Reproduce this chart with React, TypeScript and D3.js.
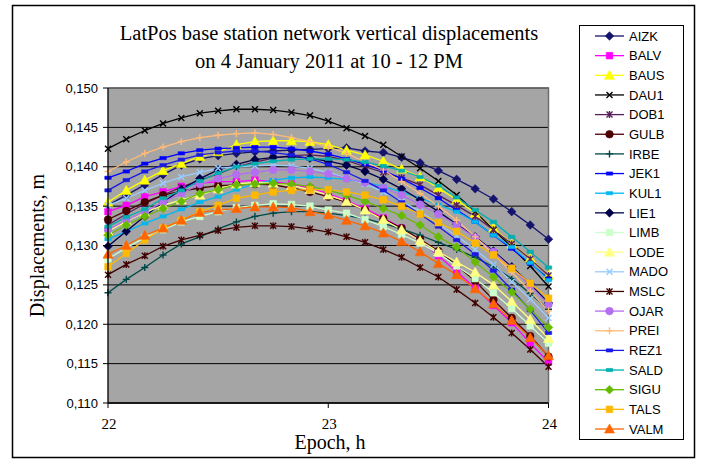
import * as d3 from 'd3'

// ─── Data (5-minute epochs) ──────────────────────────────────────────────────

const epochs = [
  22.0, 22.083, 22.167, 22.25, 22.333, 22.417, 22.5, 22.583, 22.667, 22.75, 22.833, 22.917,
  23.0, 23.083, 23.167, 23.25, 23.333, 23.417, 23.5, 23.583, 23.667, 23.75, 23.833, 23.917, 24.0,
]

const AIZK = [0.1351, 0.1364, 0.1377, 0.1390, 0.1402, 0.1410, 0.1414, 0.1417, 0.1419, 0.1420, 0.1421, 0.1422, 0.1423, 0.1424, 0.1420, 0.1418, 0.1412, 0.1405, 0.1395, 0.1384, 0.1372, 0.1359, 0.1343, 0.1326, 0.1308]
const BALV = [0.1343, 0.1351, 0.1362, 0.1368, 0.1375, 0.1379, 0.1381, 0.1381, 0.1383, 0.1381, 0.1378, 0.1373, 0.1366, 0.1357, 0.1347, 0.1335, 0.1322, 0.1306, 0.1287, 0.1267, 0.1246, 0.1224, 0.1202, 0.1176, 0.1152]
const BAUS = [0.1355, 0.1370, 0.1383, 0.1395, 0.1404, 0.1413, 0.1419, 0.1428, 0.1432, 0.1433, 0.1433, 0.1432, 0.1428, 0.1421, 0.1415, 0.1407, 0.1397, 0.1387, 0.1373, 0.1358, 0.1341, 0.1322, 0.1302, 0.1284, 0.1262]
const DAU1 = [0.1423, 0.1435, 0.1446, 0.1455, 0.1462, 0.1468, 0.1471, 0.1473, 0.1473, 0.1472, 0.1469, 0.1465, 0.1458, 0.1449, 0.1439, 0.1428, 0.1413, 0.1398, 0.1382, 0.1364, 0.1343, 0.1320, 0.1298, 0.1274, 0.1248]
const DOB1 = [0.1326, 0.1340, 0.1353, 0.1364, 0.1374, 0.1383, 0.1391, 0.1400, 0.1406, 0.1411, 0.1414, 0.1415, 0.1413, 0.1408, 0.1400, 0.1393, 0.1386, 0.1377, 0.1364, 0.1351, 0.1337, 0.1320, 0.1302, 0.1283, 0.1262]
const GULB = [0.1333, 0.1344, 0.1355, 0.1364, 0.1369, 0.1373, 0.1376, 0.1377, 0.1378, 0.1377, 0.1373, 0.1368, 0.1362, 0.1355, 0.1345, 0.1334, 0.1322, 0.1308, 0.1293, 0.1275, 0.1255, 0.1231, 0.1208, 0.1185, 0.1159]
const IRBE = [0.1240, 0.1257, 0.1272, 0.1288, 0.1302, 0.1311, 0.1321, 0.1330, 0.1337, 0.1341, 0.1343, 0.1343, 0.1341, 0.1338, 0.1334, 0.1328, 0.1321, 0.1313, 0.1304, 0.1295, 0.1285, 0.1273, 0.1258, 0.1239, 0.1219]
const JEK1 = [0.1386, 0.1394, 0.1404, 0.1411, 0.1417, 0.1421, 0.1423, 0.1424, 0.1425, 0.1425, 0.1423, 0.1420, 0.1416, 0.1410, 0.1403, 0.1395, 0.1385, 0.1373, 0.1360, 0.1345, 0.1330, 0.1313, 0.1296, 0.1277, 0.1258]
const KUL1 = [0.1308, 0.1318, 0.1328, 0.1337, 0.1346, 0.1355, 0.1362, 0.1371, 0.1378, 0.1383, 0.1386, 0.1387, 0.1386, 0.1384, 0.1380, 0.1375, 0.1368, 0.1360, 0.1352, 0.1343, 0.1330, 0.1313, 0.1298, 0.1278, 0.1256]
const LIE1 = [0.1299, 0.1318, 0.1337, 0.1355, 0.1371, 0.1385, 0.1396, 0.1403, 0.1409, 0.1412, 0.1413, 0.1411, 0.1407, 0.1402, 0.1394, 0.1384, 0.1372, 0.1358, 0.1343, 0.1327, 0.1311, 0.1293, 0.1273, 0.1251, 0.1227]
const LIMB = [0.1283, 0.1297, 0.1310, 0.1320, 0.1330, 0.1337, 0.1343, 0.1348, 0.1351, 0.1353, 0.1352, 0.1350, 0.1345, 0.1341, 0.1333, 0.1324, 0.1314, 0.1303, 0.1290, 0.1274, 0.1258, 0.1240, 0.1220, 0.1198, 0.1176]
const LODE = [0.1318, 0.1331, 0.1342, 0.1351, 0.1358, 0.1364, 0.1372, 0.1378, 0.1380, 0.1379, 0.1376, 0.1371, 0.1364, 0.1356, 0.1345, 0.1333, 0.1320, 0.1306, 0.1292, 0.1279, 0.1266, 0.1250, 0.1229, 0.1206, 0.1182]
const MADO = [0.1351, 0.1360, 0.1370, 0.1379, 0.1387, 0.1393, 0.1398, 0.1400, 0.1401, 0.1402, 0.1401, 0.1398, 0.1393, 0.1386, 0.1378, 0.1368, 0.1356, 0.1343, 0.1328, 0.1312, 0.1295, 0.1276, 0.1254, 0.1232, 0.1208]
const MSLC = [0.1263, 0.1276, 0.1287, 0.1299, 0.1307, 0.1313, 0.1319, 0.1323, 0.1325, 0.1325, 0.1324, 0.1321, 0.1317, 0.1311, 0.1304, 0.1295, 0.1285, 0.1272, 0.1260, 0.1244, 0.1227, 0.1209, 0.1189, 0.1168, 0.1146]
const OJAR = [0.1320, 0.1332, 0.1343, 0.1355, 0.1366, 0.1378, 0.1385, 0.1390, 0.1393, 0.1396, 0.1396, 0.1394, 0.1391, 0.1385, 0.1380, 0.1373, 0.1364, 0.1352, 0.1340, 0.1326, 0.1310, 0.1292, 0.1271, 0.1249, 0.1225]
const PREI = [0.1394, 0.1406, 0.1417, 0.1425, 0.1432, 0.1437, 0.1440, 0.1442, 0.1443, 0.1441, 0.1437, 0.1432, 0.1425, 0.1417, 0.1406, 0.1396, 0.1381, 0.1366, 0.1350, 0.1332, 0.1311, 0.1289, 0.1266, 0.1242, 0.1217]
const REZ1 = [0.1370, 0.1383, 0.1394, 0.1402, 0.1409, 0.1415, 0.1418, 0.1420, 0.1420, 0.1418, 0.1415, 0.1410, 0.1403, 0.1393, 0.1382, 0.1370, 0.1355, 0.1340, 0.1324, 0.1307, 0.1289, 0.1268, 0.1244, 0.1218, 0.1189]
const SALD = [0.1324, 0.1336, 0.1346, 0.1360, 0.1370, 0.1382, 0.1392, 0.1400, 0.1404, 0.1407, 0.1409, 0.1410, 0.1410, 0.1409, 0.1406, 0.1401, 0.1395, 0.1387, 0.1376, 0.1361, 0.1345, 0.1330, 0.1311, 0.1292, 0.1272]
const SIGU = [0.1313, 0.1326, 0.1337, 0.1347, 0.1356, 0.1366, 0.1371, 0.1377, 0.1378, 0.1379, 0.1378, 0.1375, 0.1370, 0.1364, 0.1356, 0.1347, 0.1338, 0.1326, 0.1311, 0.1298, 0.1279, 0.1260, 0.1241, 0.1219, 0.1196]
const TALS = [0.1273, 0.1290, 0.1307, 0.1322, 0.1332, 0.1343, 0.1351, 0.1360, 0.1364, 0.1368, 0.1370, 0.1371, 0.1371, 0.1368, 0.1364, 0.1358, 0.1350, 0.1340, 0.1329, 0.1318, 0.1303, 0.1288, 0.1271, 0.1252, 0.1233]
const VALM = [0.1289, 0.1300, 0.1313, 0.1322, 0.1332, 0.1342, 0.1345, 0.1347, 0.1349, 0.1349, 0.1348, 0.1343, 0.1339, 0.1332, 0.1325, 0.1316, 0.1305, 0.1292, 0.1277, 0.1263, 0.1245, 0.1226, 0.1205, 0.1183, 0.1160]

const stations = ['AIZK', 'BALV', 'BAUS', 'DAU1', 'DOB1', 'GULB', 'IRBE', 'JEK1', 'KUL1', 'LIE1', 'LIMB',
  'LODE', 'MADO', 'MSLC', 'OJAR', 'PREI', 'REZ1', 'SALD', 'SIGU', 'TALS', 'VALM']
const stationValues = [AIZK, BALV, BAUS, DAU1, DOB1, GULB, IRBE, JEK1, KUL1, LIE1, LIMB,
  LODE, MADO, MSLC, OJAR, PREI, REZ1, SALD, SIGU, TALS, VALM]

const yTicks = [0.11, 0.115, 0.12, 0.125, 0.13, 0.135, 0.14, 0.145, 0.15]
const xTicks = [22, 23, 24]

// ─── Styles ──────────────────────────────────────────────────────────────────

type MarkerKind = 'diamond' | 'square' | 'triangle' | 'times' | 'star' | 'circle' | 'plus' | 'dash'

const styles: Record<string, { color: string; marker: MarkerKind }> = {
  AIZK: { color: '#14146e', marker: 'diamond' },
  BALV: { color: '#ff00ff', marker: 'square' },
  BAUS: { color: '#ffff00', marker: 'triangle' },
  DAU1: { color: '#000000', marker: 'times' },
  DOB1: { color: '#5a1f5a', marker: 'star' },
  GULB: { color: '#4a0000', marker: 'circle' },
  IRBE: { color: '#004848', marker: 'plus' },
  JEK1: { color: '#0000ff', marker: 'dash' },
  KUL1: { color: '#00b8f0', marker: 'dash' },
  LIE1: { color: '#00004a', marker: 'diamond' },
  LIMB: { color: '#ccffcc', marker: 'square' },
  LODE: { color: '#ffff80', marker: 'triangle' },
  MADO: { color: '#99ccff', marker: 'times' },
  MSLC: { color: '#400000', marker: 'star' },
  OJAR: { color: '#b46ef0', marker: 'circle' },
  PREI: { color: '#ffbb77', marker: 'plus' },
  REZ1: { color: '#1a1ae6', marker: 'dash' },
  SALD: { color: '#00afaf', marker: 'dash' },
  SIGU: { color: '#66bb00', marker: 'diamond' },
  TALS: { color: '#ffb800', marker: 'square' },
  VALM: { color: '#ff6600', marker: 'triangle' },
}

const serif = '"Times New Roman", "Liberation Serif", serif'
const sans = 'Arial, "Liberation Sans", sans-serif'

const W = 701
const H = 459
const plot = { left: 108, top: 88, right: 548.5, bottom: 403 }

const x = d3.scaleLinear().domain([22, 24]).range([plot.left, plot.right])
const y = d3.scaleLinear().domain([0.11, 0.15]).range([plot.bottom, plot.top])

const symbolPath = (kind: MarkerKind): string => {
  const sym = d3.symbol()
  switch (kind) {
    case 'diamond':
      return 'M0,-4.3L4.3,0L0,4.3L-4.3,0Z'
    case 'square':
      return sym.type(d3.symbolSquare).size(44)() as string
    case 'triangle':
      return 'M0,-5L5,4L-5,4Z'
    case 'circle':
      return sym.type(d3.symbolCircle).size(46)() as string
    case 'times':
      return 'M-3,-3L3,3M-3,3L3,-3'
    case 'plus':
      return 'M-3.5,0L3.5,0M0,-3.5L0,3.5'
    case 'star':
      return 'M-3,-3L3,3M-3,3L3,-3M0,-3.5L0,3.5'
    case 'dash':
      return 'M-3.2,-1.6L3.2,-1.6L3.2,1.6L-3.2,1.6Z'
  }
}

const isStroked = (kind: MarkerKind) => kind === 'times' || kind === 'plus' || kind === 'star'

function Marker({ kind, color, cx, cy }: { kind: MarkerKind; color: string; cx: number; cy: number }) {
  const stroked = isStroked(kind)
  return (
    <path
      d={symbolPath(kind)}
      transform={`translate(${cx},${cy})`}
      fill={stroked ? 'none' : color}
      stroke={color}
      strokeWidth={stroked ? 1.4 : 0.6}
    />
  )
}

export default function App() {
  const line = d3
    .line<number>()
    .x((_, i) => x(epochs[i]))
    .y((v) => y(v))

  const fmt = (v: number) => d3.format('.3f')(v).replace('.', ',')

  const legend = { left: 579, top: 25, right: 683, bottom: 439, row0: 36, step: 19.65 }

  return (
    <svg
      width={W}
      height={H}
      style={{ position: 'absolute', left: 0, top: 0, display: 'block', background: '#fff' }}
    >
      {/* chart frame */}
      <rect x={12.5} y={5.5} width={682} height={452} fill="#fff" stroke="#000" strokeWidth={1.5} />

      {/* title */}
      <text x={329} y={40} textAnchor="middle" fontFamily={serif} fontSize={20.5}>
        LatPos base station network vertical displacements
      </text>
      <text x={329} y={68} textAnchor="middle" fontFamily={serif} fontSize={20.5}>
        on 4 January 2011 at 10 - 12 PM
      </text>

      {/* plot area */}
      <rect
        x={plot.left}
        y={plot.top}
        width={plot.right - plot.left}
        height={plot.bottom - plot.top}
        fill="#a5a5a5"
      />
      {yTicks.map((t) => (
        <line key={t} x1={plot.left} x2={plot.right} y1={y(t)} y2={y(t)} stroke="#000" strokeWidth={1} />
      ))}
      <path
        d={`M${plot.left},${plot.top}H${plot.right}V${plot.bottom}`}
        fill="none"
        stroke="#6e6e6e"
        strokeWidth={1.5}
      />

      {/* series */}
      <g>
        {stations.map((name, si) => (
          <path
            key={name}
            d={line(stationValues[si]) ?? ''}
            fill="none"
            stroke={styles[name].color}
            strokeWidth={1.3}
          />
        ))}
        {stations.map((name, si) => (
          <g key={name}>
            {stationValues[si].map((v, i) => (
              <Marker key={i} kind={styles[name].marker} color={styles[name].color} cx={x(epochs[i])} cy={y(v)} />
            ))}
          </g>
        ))}
      </g>

      {/* axes */}
      <line x1={plot.left} x2={plot.left} y1={plot.top} y2={plot.bottom} stroke="#000" strokeWidth={1.3} />
      <line x1={plot.left} x2={plot.right} y1={plot.bottom} y2={plot.bottom} stroke="#000" strokeWidth={1.3} />
      {yTicks.map((t) => (
        <g key={t}>
          <line x1={plot.left - 5} x2={plot.left} y1={y(t)} y2={y(t)} stroke="#000" />
          <text x={98} y={y(t)} dy="0.35em" textAnchor="end" fontFamily={sans} fontSize={13}>
            {fmt(t)}
          </text>
        </g>
      ))}
      {xTicks.map((t) => (
        <g key={t}>
          <line x1={x(t)} x2={x(t)} y1={plot.bottom} y2={plot.bottom + 5} stroke="#000" />
          <text x={x(t) + 1} y={429} textAnchor="middle" fontFamily={serif} fontSize={15}>
            {t}
          </text>
        </g>
      ))}

      {/* axis titles */}
      <text
        transform={`translate(44,${(plot.top + plot.bottom) / 2}) rotate(-90)`}
        textAnchor="middle"
        fontFamily={serif}
        fontSize={20}
      >
        Displacements, m
      </text>
      <text x={330} y={449} textAnchor="middle" fontFamily={serif} fontSize={20}>
        Epoch, h
      </text>

      {/* legend */}
      <rect
        x={legend.left + 0.5}
        y={legend.top + 0.5}
        width={legend.right - legend.left}
        height={legend.bottom - legend.top}
        fill="#fff"
        stroke="#000"
        strokeWidth={1}
      />
      {stations.map((name, i) => {
        const cy = legend.row0 + i * legend.step
        return (
          <g key={name}>
            <line x1={595} x2={624} y1={cy} y2={cy} stroke={styles[name].color} strokeWidth={1.3} />
            <Marker kind={styles[name].marker} color={styles[name].color} cx={609.5} cy={cy} />
            <text x={629} y={cy} dy="0.36em" fontFamily={sans} fontSize={13}>
              {name}
            </text>
          </g>
        )
      })}
    </svg>
  )
}
